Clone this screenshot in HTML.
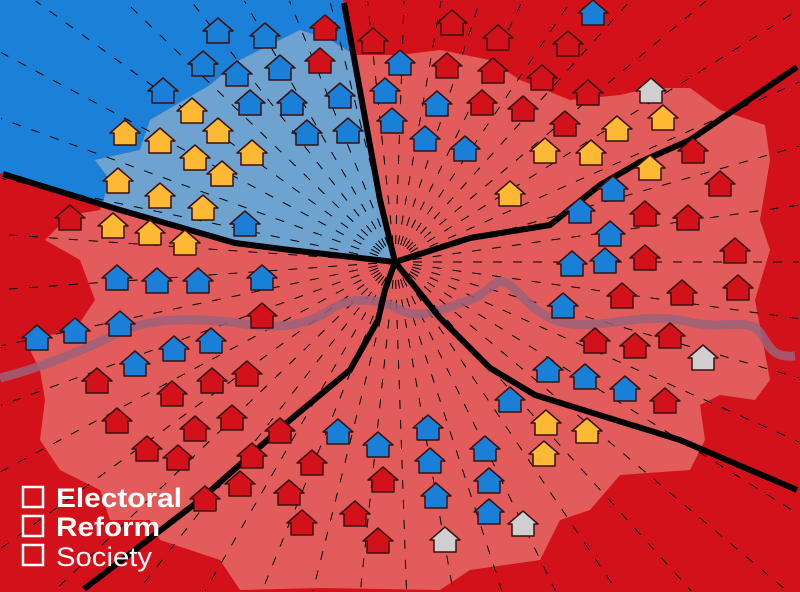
<!DOCTYPE html>
<html><head><meta charset="utf-8"><style>
html,body{margin:0;padding:0;width:800px;height:592px;overflow:hidden;background:#d3111a}
svg{display:block;overflow:hidden}
</style></head><body>
<svg id="map" width="800" height="592" viewBox="0 0 800 592" xmlns="http://www.w3.org/2000/svg">
<defs>
<clipPath id="blueClip"><polygon points="0,0 343,0 380,200 395,262 290,250 235,243 120,210 0,173"/></clipPath>
</defs>
<rect x="0" y="0" width="800" height="592" fill="#d3111a"/>
<polygon points="0,0 343,0 380,200 395,262 290,250 235,243 120,210 0,173" fill="#1a80d8"/>
<g id="inner"></g>
<g id="dashes"></g>
<path d="M0,378 C40,368 80,352 120,332 C150,318 190,318 230,322 C270,328 300,330 330,310 C350,296 380,298 400,310 C420,320 440,310 470,300 C490,292 495,278 505,282 C520,290 530,312 560,322 C600,332 640,310 690,322 C720,330 745,318 758,330 C770,345 770,358 795,356" fill="none" stroke="#9c6078" stroke-width="9" opacity="0.85"/>
<g fill="none" stroke="#000" stroke-width="6" stroke-linejoin="round">
<polyline points="395,262 380,200 344,3"/>
<polyline points="395,262 290,250 235,243 120,210 3,174"/>
<polyline points="395,262 470,238 550,225 600,185 640,162 690,140 797,67"/>
<polyline points="395,262 440,318 490,368 535,395 680,440 797,490"/>
<polyline points="395,262 385,290 378,320 350,370 290,420 200,500 84,589"/>
</g>
<g id="houses"></g>
<g font-family="'Liberation Sans', sans-serif" fill="#fff">
<rect x="23" y="487" width="20" height="20" fill="none" stroke="#fff" stroke-width="2.5"/>
<rect x="23" y="516" width="20" height="20" fill="none" stroke="#fff" stroke-width="2.5"/>
<rect x="23" y="545" width="20" height="20" fill="none" stroke="#fff" stroke-width="2.5"/>
<text x="56" y="507" font-size="27" font-weight="bold" textLength="126" lengthAdjust="spacingAndGlyphs">Electoral</text>
<text x="56" y="536" font-size="27" font-weight="bold" textLength="104" lengthAdjust="spacingAndGlyphs">Reform</text>
<text x="56" y="566" font-size="27" textLength="96" lengthAdjust="spacingAndGlyphs">Society</text>
</g>
</svg>
<script>
const innerOutline = [[25,340],[75,330],[95,300],[80,260],[45,240],[70,215],[100,210],[110,180],[95,160],[140,150],[150,120],[210,85],[240,60],[270,45],[300,30],[330,40],[355,55],[400,55],[440,50],[490,60],[520,80],[570,100],[620,95],[650,88],[690,88],[720,110],[765,125],[770,160],[760,220],[770,250],[755,300],[770,380],[755,400],[720,395],[700,405],[705,440],[690,470],[620,475],[590,510],[560,520],[540,560],[470,570],[440,590],[320,588],[240,590],[220,560],[160,540],[150,520],[110,520],[100,490],[60,470],[40,440],[45,400],[40,370]];
const seatX = [218,265,203,237,280,163,250,292,340,307,348,245,325,320,125,160,192,218,195,252,222,118,160,203,113,150,185,
373,452,498,568,447,493,542,588,482,523,565,693,720,645,688,645,735,682,738,622,595,635,670,665,
593,400,385,392,437,425,465,613,580,610,572,605,563,548,585,625,510,663,617,545,591,650,510,546,587,544,651,703,
70,262,97,212,247,172,117,195,232,147,178,280,252,312,240,205,289,302,355,383,378,
117,157,198,262,37,75,120,211,174,135,338,378,428,430,436,485,489,489,523,445];
const seatY = [35,40,68,78,72,95,107,107,100,137,135,228,32,65,137,145,115,135,162,157,178,185,200,212,230,237,247,
45,27,42,48,70,75,82,97,107,113,128,155,188,218,222,262,255,297,292,300,345,350,340,405,
17,67,95,125,108,143,153,193,215,238,268,265,310,374,381,393,404,122,133,155,157,172,198,427,435,458,95,362,
222,320,385,385,378,398,425,433,422,453,462,435,460,467,488,503,497,527,518,484,545,
282,285,285,282,342,335,328,345,353,368,436,449,432,465,500,453,485,516,528,544];
const seatParty = ["C","C","C","C","C","C","C","C","C","C","C","C","L","L","D","D","D","D","D","D","D","D","D","D","D","D","D",
"L","L","L","L","L","L","L","L","L","L","L","L","L","L","L","L","L","L","L","L","L","L","L","L",
"C","C","C","C","C","C","C","C","C","C","C","C","C","C","C","C","C","D","D","D","D","D","D","D","D","D","O","O",
"L","L","L","L","L","L","L","L","L","L","L","L","L","L","L","L","L","L","L","L","L",
"C","C","C","C","C","C","C","C","C","C","C","C","C","C","C","C","C","C","O","O"];
const partyColors = {C:"#1a7fd6",L:"#d3111a",D:"#fdb933",O:"#cfcfcf"};
const NS="http://www.w3.org/2000/svg";
const inner=document.getElementById('inner');
const pts=innerOutline.map(p=>p.join(',')).join(' ');
const red=document.createElementNS(NS,'polygon');
red.setAttribute('points',pts);red.setAttribute('fill','#e35c5c');


inner.appendChild(red);
const blu=document.createElementNS(NS,'polygon');
blu.setAttribute('points',pts);blu.setAttribute('fill','#6ea3d0');blu.setAttribute('clip-path','url(#blueClip)');


inner.appendChild(blu);
const dashes=document.getElementById('dashes');
const cx=395,cy=262;
for(let a=0;a<360;a+=8){
  const r=a*Math.PI/180, dx=Math.cos(r), dy=Math.sin(r);
  let t=1e9;
  if(dx>1e-6) t=Math.min(t,(799-cx)/dx);
  if(dx<-1e-6) t=Math.min(t,(1-cx)/dx);
  if(dy>1e-6) t=Math.min(t,(591-cy)/dy);
  if(dy<-1e-6) t=Math.min(t,(1-cy)/dy);
  const l=document.createElementNS(NS,'line');
  l.setAttribute('x1',cx+18*dx);l.setAttribute('y1',cy+18*dy);
  l.setAttribute('x2',cx+t*dx);l.setAttribute('y2',cy+t*dy);
  l.setAttribute('stroke','#000');l.setAttribute('stroke-width','1');l.setAttribute('stroke-dasharray','9 11');
  
  
  dashes.appendChild(l);
}
const houses=document.getElementById('houses');
for(let i=0;i<seatX.length;i++){
  const x=seatX[i],y=seatY[i]+8;
  const p=document.createElementNS(NS,'path');
  p.setAttribute('d',`M${x-11},${y} L${x-11},${y-12} L${x-15},${y-12} L${x},${y-25} L${x+15},${y-12} L${x+11},${y-12} L${x+11},${y} Z`);
  p.setAttribute('fill',partyColors[seatParty[i]]);
  p.setAttribute('stroke','#3a1010');p.setAttribute('stroke-width','1.5');p.setAttribute('stroke-linejoin','round');
  
  
  houses.appendChild(p);
}
</script>
</body></html>
